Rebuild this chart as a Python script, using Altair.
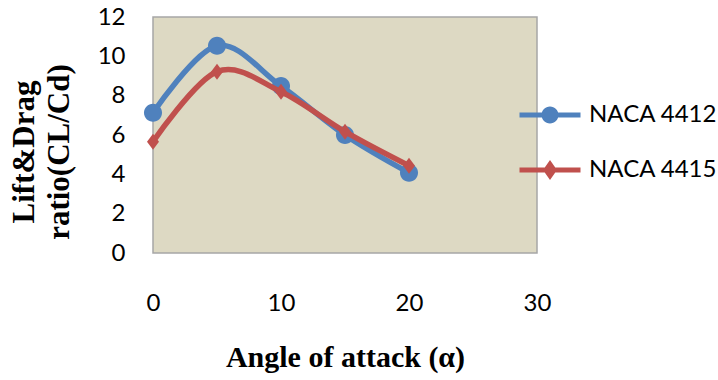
import altair as alt
import pandas as pd

angles = [0, 5, 10, 15, 20]
naca4412 = [7.13, 10.54, 8.49, 6.0, 4.08]
naca4415 = [5.66, 9.22, 8.2, 6.17, 4.44]
series_names = ["NACA 4412", "NACA 4415"]
series_colors = ["#4F81BD", "#C0504D"]
x_ticks = [0, 10, 20, 30]
y_ticks = [0, 2, 4, 6, 8, 10, 12]

df = pd.DataFrame({
    "angle": angles * 2,
    "ratio": naca4412 + naca4415,
    "series": [series_names[0]] * len(angles) + [series_names[1]] * len(angles),
})

LABEL_FONT = "Lato"

circle_path = "M0.95,0A0.95,0.95 0 1,1 -0.95,0A0.95,0.95 0 1,1 0.95,0Z"
diamond_path = "M0,-1L0.75,0L0,1L-0.75,0Z"
leg_circle = ("M-3.05,-0.25L3.05,-0.25L3.05,0.25L-3.05,0.25Z "
              "M0.85,0A0.85,0.85 0 1,1 -0.85,0A0.85,0.85 0 1,1 0.85,0Z")
leg_diamond = ("M-3.05,-0.25L3.05,-0.25L3.05,0.25L-3.05,0.25Z "
               "M0,-1L0.7,0L0,1L-0.7,0Z")

x_enc = alt.X(
    "angle:Q",
    scale=alt.Scale(domain=[0, 30], nice=False, zero=False),
    axis=alt.Axis(
        values=x_ticks, title="Angle of attack (α)", ticks=False, tickSize=0,
        domain=False, grid=False, labelFont=LABEL_FONT, labelFontSize=24,
        labelColor="#000000", labelPadding=50, labelBaseline="middle",
        labelFlush=False, labelOverlap=False,
        titleFont="Liberation Serif", titleFontWeight="bold", titleFontSize=30,
        titleColor="#000000", titleY=104, titleBaseline="middle",
    ),
)
y_enc = alt.Y(
    "ratio:Q",
    scale=alt.Scale(domain=[0, 12], nice=False),
    axis=alt.Axis(
        values=y_ticks, title=["Lift&Drag", "ratio(CL/Cd)"], ticks=False, tickSize=0,
        domain=False, grid=False, labelFont=LABEL_FONT, labelFontSize=24,
        labelColor="#000000", labelPadding=28, labelFlush=False, labelOverlap=False,
        titleFont="Liberation Serif", titleFontWeight="bold", titleFontSize=31,
        titleColor="#000000", titleX=-129, titleY=134.5, titleAngle=270,
        titleAlign="center", titleBaseline="middle", titleLineHeight=35,
    ),
)

layers = []
for name, col, shp, sz in zip(series_names, series_colors,
                              [circle_path, diamond_path], [361, 256]):
    base = alt.Chart(df).transform_filter(alt.datum.series == name)
    layers.append(base.mark_line(interpolate="cardinal", strokeWidth=5.5, color=col)
                  .encode(x=x_enc, y=y_enc))
    layers.append(base.mark_point(filled=True, opacity=1, size=sz, shape=shp, color=col)
                  .encode(x=x_enc, y=y_enc))

legend_def = alt.Legend(
    title=None, orient="none", legendX=385, legendY=86, padding=0,
    labelFont=LABEL_FONT, labelFontSize=24, labelColor="#000000", labelOffset=27,
    symbolSize=400, symbolStrokeWidth=0, symbolOpacity=1, rowPadding=31,
    labelLimit=300,
)

legend_layer = alt.Chart(df).transform_filter("false").mark_point(
    filled=True, opacity=1
).encode(
    x=x_enc, y=y_enc,
    color=alt.Color("series:N", scale=alt.Scale(domain=series_names, range=series_colors),
                    legend=legend_def),
    shape=alt.Shape("series:N", scale=alt.Scale(domain=series_names, range=[leg_circle, leg_diamond]),
                    legend=legend_def),
)

chart = alt.layer(*layers, legend_layer).properties(
    width=384, height=236,
    autosize=alt.AutoSizeParams(type="none"),
    padding={"left": 153, "top": 17, "right": 181, "bottom": 127},
    background="#FFFFFF",
).configure_view(
    fill="#DDD9C3", stroke="#A6A6A6", strokeWidth=1.5,
)

chart.save("out.html", embed_options={"renderer": "svg", "actions": False})
